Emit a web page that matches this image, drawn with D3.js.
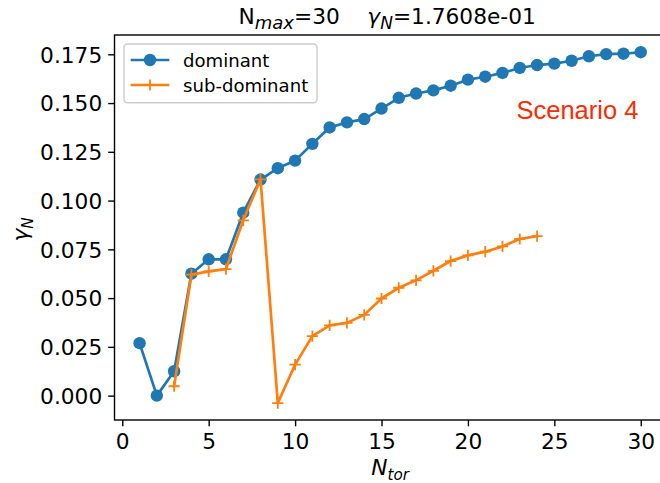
<!DOCTYPE html>
<html>
<head>
<meta charset="utf-8">
<script src="https://cdn.jsdelivr.net/npm/d3@7"></script>
<style>
  html, body { margin: 0; padding: 0; background: #fff; }
  svg { display: block; }
  text { font-family: "DejaVu Sans", sans-serif; white-space: pre; }
</style>
</head>
<body>
<div id="chart"></div>
<script>
// ---- data ----
const nTor = d3.range(1, 31);
const dominant = [0.0269, 0.0000, 0.0125, 0.0625, 0.0699, 0.0699, 0.0938, 0.1108, 0.1166, 0.1205,
                  0.1291, 0.1375, 0.1401, 0.1418, 0.1472, 0.1527, 0.1549, 0.1565, 0.1589, 0.1620,
                  0.1635, 0.1655, 0.1680, 0.1695, 0.1702, 0.1717, 0.1740, 0.1751, 0.1753, 0.17608];
const subX = d3.range(3, 25);
const subDominant = [0.0048, 0.0620, 0.0637, 0.0649, 0.0899, 0.1109, -0.0038, 0.0159, 0.0305, 0.0360,
                     0.0373, 0.0414, 0.0498, 0.0553, 0.0591, 0.0640, 0.0690, 0.0719, 0.0738, 0.0765,
                     0.0803, 0.0818];
const xTicks = [0, 5, 10, 15, 20, 25, 30];
const yTicks = [0, 0.025, 0.05, 0.075, 0.1, 0.125, 0.15, 0.175];
const seriesNames = ["dominant", "sub-dominant"];
const colors = ["#1f77b4", "#ff7f0e"];

// ---- layout ----
const W = 660, H = 483;
const mLeft = 114.5, mRight = 665.8, mTop = 35, mBottom = 420;

const svg = d3.select("#chart").append("svg").attr("width", W).attr("height", H);

const x = d3.scaleLinear().domain([-0.45, 31.45]).range([mLeft, mRight]);
const ymin = -0.0125, ymax = 0.1849;
const y = d3.scaleLinear().domain([ymin, ymax]).range([mBottom, mTop]);

// axes
const xAxis = d3.axisBottom(x).tickValues(xTicks).tickSize(6.3).tickPadding(6).tickFormat(d3.format("d"));
const yAxis = d3.axisLeft(y).tickValues(yTicks).tickSize(6.3).tickPadding(6).tickFormat(d3.format(".3f"));

const gx = svg.append("g").attr("transform", `translate(0,${mBottom})`).call(xAxis);
const gy = svg.append("g").attr("transform", `translate(${mLeft},0)`).call(yAxis);
[gx, gy].forEach(g => {
  g.select(".domain").remove();
  g.selectAll(".tick line").attr("stroke", "#000").attr("stroke-width", 1.4);
  g.selectAll(".tick text").attr("fill", "#000").style("font-size", "21.7px")
    .style("font-family", "DejaVu Sans");
});
gx.selectAll(".tick text").attr("dy", null).attr("y", 29.3);
gy.selectAll(".tick text").attr("dy", "0.36em");

// frame
svg.append("rect").attr("x", mLeft).attr("y", mTop).attr("width", mRight - mLeft).attr("height", mBottom - mTop)
  .attr("fill", "none").attr("stroke", "#000").attr("stroke-width", 1.4);

// lines
const lineD = d3.line().x(d => x(d[0])).y(d => y(d[1]));
const domPts = nTor.map((n, i) => [n, dominant[i]]);
const subPts = subX.map((n, i) => [n, subDominant[i]]);

svg.append("path").attr("d", lineD(domPts)).attr("fill", "none").attr("stroke", colors[0])
  .attr("stroke-width", 2.7).attr("stroke-linejoin", "round").attr("stroke-linecap", "square");
svg.selectAll("circle.dom").data(domPts).enter().append("circle").attr("class", "dom")
  .attr("cx", d => x(d[0])).attr("cy", d => y(d[1])).attr("r", 6.2).attr("fill", colors[0]);

svg.append("path").attr("d", lineD(subPts)).attr("fill", "none").attr("stroke", colors[1])
  .attr("stroke-width", 2.7).attr("stroke-linejoin", "round").attr("stroke-linecap", "square");
const plus = (cx, cy, s) => `M${cx - s},${cy}H${cx + s}M${cx},${cy - s}V${cy + s}`;
svg.selectAll("path.sub").data(subPts).enter().append("path").attr("class", "sub")
  .attr("d", d => plus(x(d[0]), y(d[1]), 5.6)).attr("stroke", colors[1]).attr("stroke-width", 1.8).attr("fill", "none");

// annotation
svg.append("text").attr("x", 516.5).attr("y", 118.5).text("Scenario 4")
  .style("font-family", "Liberation Sans, Arial, sans-serif").style("font-size", "25.5px").attr("fill", "#ff2a00");

// legend
const lg = svg.append("g");
lg.append("rect").attr("x", 124).attr("y", 44).attr("width", 193).attr("height", 58.7).attr("rx", 3.5)
  .attr("fill", "#fff").attr("fill-opacity", 0.8).attr("stroke", "#cccccc").attr("stroke-width", 1.4);
const ly = [60, 85];
seriesNames.forEach((name, i) => {
  lg.append("line").attr("x1", 130.7).attr("x2", 169.3).attr("y1", ly[i]).attr("y2", ly[i])
    .attr("stroke", colors[i]).attr("stroke-width", 2.7);
  if (i === 0) lg.append("circle").attr("cx", 150).attr("cy", ly[i]).attr("r", 6.2).attr("fill", colors[i]);
  else lg.append("path").attr("d", plus(150, ly[i], 5.6)).attr("stroke", colors[i]).attr("stroke-width", 1.8);
  lg.append("text").attr("x", 183).attr("y", ly[i] + 6.5).text(name).style("font-size", "18.1px").attr("fill", "#000");
});

// title
const cxm = (mLeft + mRight) / 2;
const t = svg.append("text").attr("x", cxm - 3).attr("y", 24).attr("text-anchor", "middle")
  .style("font-size", "21.7px").attr("fill", "#000");
t.append("tspan").text("N");
t.append("tspan").text("max").style("font-style", "italic").style("font-size", "18px").attr("dy", 4.5);
t.append("tspan").text("=30    ").attr("dy", -4.5);
t.append("tspan").text("γ").style("font-style", "italic");
t.append("tspan").text("N").style("font-style", "italic").style("font-size", "17px").attr("dy", 4.5);
t.append("tspan").text("=1.7608e-01").attr("dy", -4.5);

// x label
const xl = svg.append("text").attr("x", cxm).attr("y", 475).attr("text-anchor", "middle")
  .style("font-size", "21.7px").attr("fill", "#000");
xl.append("tspan").text("N").style("font-style", "italic");
xl.append("tspan").text("tor").style("font-style", "italic").style("font-size", "15.2px").attr("dy", 4.5);

// y label
const yl = svg.append("text").attr("transform", `translate(28,${(mTop + mBottom) / 2 + 2}) rotate(-90)`)
  .attr("text-anchor", "middle").style("font-size", "21.7px").attr("fill", "#000");
yl.append("tspan").text("γ").style("font-style", "italic");
yl.append("tspan").text("N").style("font-style", "italic").style("font-size", "15.2px").attr("dy", 4.5);
</script>
</body>
</html>
